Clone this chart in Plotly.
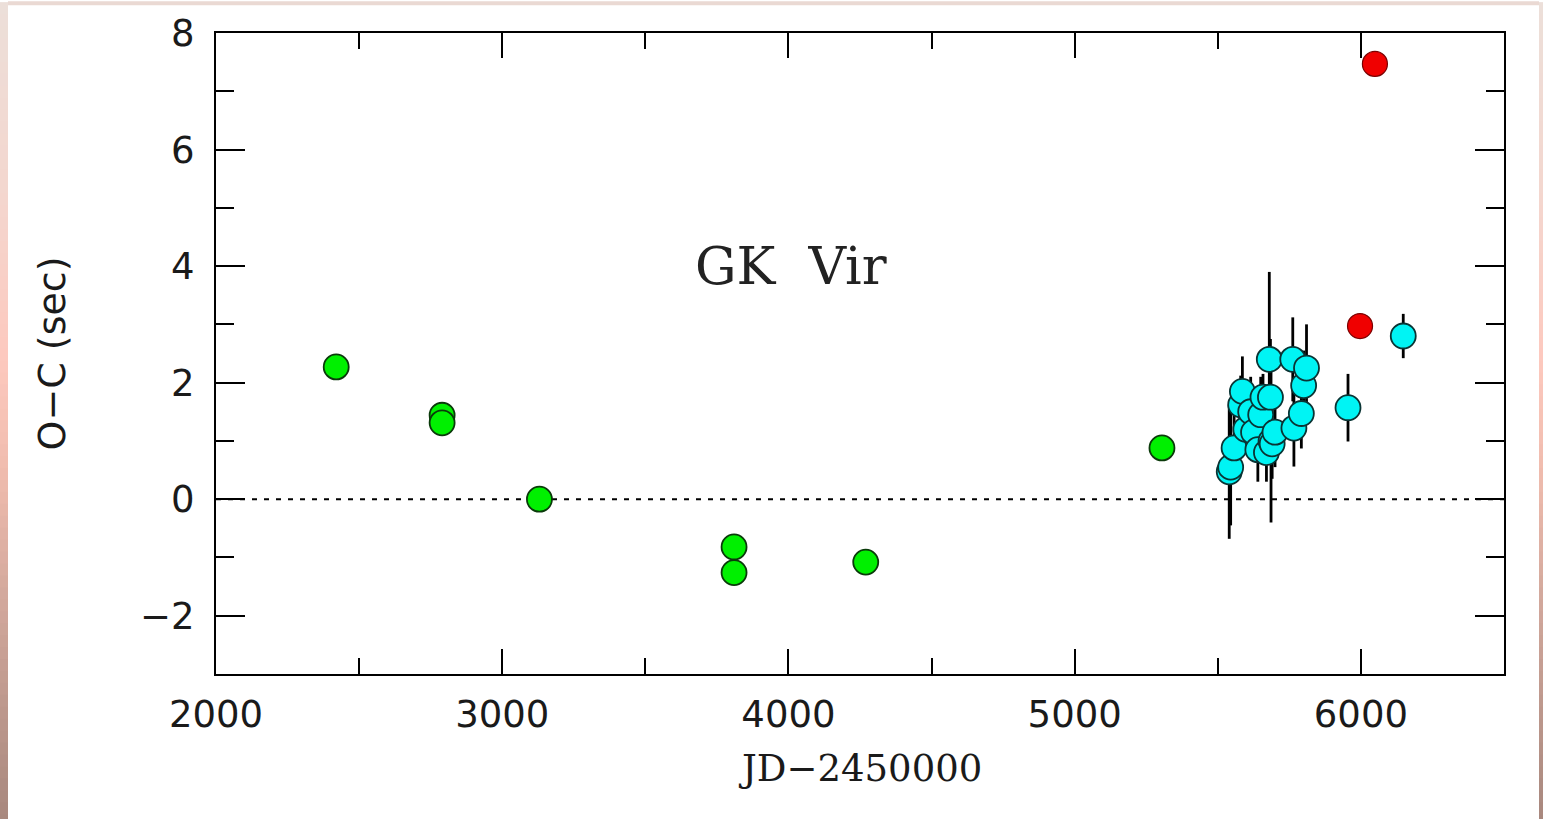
import plotly.graph_objects as go

# ---- O-C timings of GK Vir (JD-2450000, seconds) ----
green_x = [2420, 2790, 2790, 3130, 3810, 3810, 4270, 5305]
green_y = [2.27, 1.44, 1.31, 0.00, -0.82, -1.26, -1.08, 0.88]

cyan_x = [5540, 5545, 5557, 5580, 5586, 5598, 5615, 5625, 5640, 5650, 5658,
          5670, 5680, 5684, 5686, 5690, 5700, 5762, 5766, 5792, 5800, 5810,
          5955, 6148]
cyan_y = [0.47, 0.55, 0.88, 1.62, 1.85, 1.20, 1.50, 1.15, 0.85, 1.45, 1.75,
          0.80, 2.40, 1.75, 1.00, 0.95, 1.15, 2.40, 1.22, 1.47, 1.95, 2.25,
          1.57, 2.80]
cyan_err = [1.15, 1.00, 0.60, 0.50, 0.60, 0.40, 0.60, 0.50, 0.55, 0.65, 0.40,
            0.50, 1.50, 1.00, 1.40, 0.60, 0.60, 0.72, 0.66, 0.60, 0.60, 0.75,
            0.58, 0.38]

red_x = [5997, 6049]
red_y = [2.97, 7.47]

x_range = [2000, 6500]
y_range = [-3, 8]

# figure geometry (pixels)
W, H = 1543, 819
ML, MR, MT, MB = 216, 39, 30, 145
PW, PH = W - ML - MR, H - MT - MB


def px_x(p):
    return (p - ML) / PW


def px_y(q):
    return (H - MB - q) / PH


fig = go.Figure()

marker_size = 25

fig.add_trace(go.Scatter(
    x=green_x, y=green_y, mode="markers",
    marker=dict(size=marker_size, color="#00f000",
                line=dict(color="#0a3a0a", width=1.8)),
    showlegend=False,
))

fig.add_trace(go.Scatter(
    x=cyan_x, y=cyan_y, mode="markers",
    error_y=dict(type="data", array=cyan_err, visible=True,
                 color="black", thickness=2.8, width=0),
    marker=dict(size=marker_size, color="#00f4f4",
                line=dict(color="#0a3434", width=1.8)),
    showlegend=False,
))

fig.add_trace(go.Scatter(
    x=red_x, y=red_y, mode="markers",
    marker=dict(size=marker_size, color="#f00000",
                line=dict(color="#7a0000", width=1.2)),
    showlegend=False,
))

shapes = []
# dotted zero line
shapes.append(dict(type="line", xref="x", yref="y", x0=x_range[0], x1=x_range[1],
                   y0=0, y1=0, line=dict(color="black", width=2, dash="5px,7px"),
                   layer="below"))


# pinkish frame strips at the page edges
def hex2rgb(h):
    h = h.lstrip("#")
    return tuple(int(h[i:i + 2], 16) for i in (0, 2, 4))


stops = [(0, "#ecdfd9"), (200, "#f4d6ce"), (360, "#fdc9be"),
         (470, "#f0bcae"), (600, "#d2a89c"), (819, "#a8887e")]


def color_at(q):
    for (q0, c0), (q1, c1) in zip(stops[:-1], stops[1:]):
        if q0 <= q <= q1:
            t = (q - q0) / (q1 - q0)
            a, b = hex2rgb(c0), hex2rgb(c1)
            return "rgb(%d,%d,%d)" % tuple(round(a[i] + (b[i] - a[i]) * t) for i in range(3))
    return stops[-1][1]


band = 12
for q in range(0, H, band):
    col = color_at(q + band / 2)
    for xa, xb in ((-2, 8), (1539, W + 2)):
        shapes.append(dict(type="rect", xref="paper", yref="paper",
                           x0=px_x(xa), x1=px_x(xb),
                           y0=px_y(min(q + band + 2, H + 2)), y1=px_y(q - 1),
                           fillcolor=col, line=dict(width=0), layer="above"))
shapes.append(dict(type="rect", xref="paper", yref="paper",
                   x0=px_x(8), x1=px_x(1539), y0=px_y(2), y1=px_y(-2),
                   fillcolor="#ead9d3", line=dict(width=0), layer="above"))

tick_font = dict(family="DejaVu Sans", size=37, color="#1a1a1a")

fig.update_layout(
    width=W, height=H, autosize=False,
    margin=dict(l=ML, r=MR, t=MT, b=MB, pad=0),
    paper_bgcolor="white", plot_bgcolor="white",
    shapes=shapes,
    xaxis=dict(
        range=x_range, showgrid=False, zeroline=False,
        showline=True, linecolor="black", linewidth=2, mirror="allticks",
        ticks="inside", ticklen=25, tickwidth=2, tickcolor="black",
        tick0=2000, dtick=1000, tickfont=tick_font, ticklabelstandoff=7,
        minor=dict(ticks="inside", ticklen=16, tickwidth=2, tickcolor="black", dtick=500),
    ),
    yaxis=dict(
        range=y_range, showgrid=False, zeroline=False,
        showline=True, linecolor="black", linewidth=2, mirror="allticks",
        ticks="inside", ticklen=29, tickwidth=2, tickcolor="black",
        tick0=0, dtick=2, tickfont=tick_font, ticklabelstandoff=12,
        minor=dict(ticks="inside", ticklen=18, tickwidth=2, tickcolor="black", dtick=1),
    ),
    annotations=[
        dict(text="GK\u00a0\u00a0Vir", x=4010, y=4.0, xref="x", yref="y",
             showarrow=False, xanchor="center", yanchor="middle",
             font=dict(family="DejaVu Serif", size=52, color="#222222")),
        dict(text="JD\u22122450000", x=0.5, y=px_y(769), xref="paper", yref="paper",
             showarrow=False, xanchor="center", yanchor="middle",
             font=dict(family="DejaVu Serif", size=37, color="#1a1a1a")),
        dict(text="O\u2212C (sec)", x=px_x(51), y=0.5, xref="paper", yref="paper",
             showarrow=False, xanchor="center", yanchor="middle", textangle=-90,
             font=dict(family="DejaVu Sans", size=38, color="#1a1a1a")),
    ],
)

fig.write_html("out.html")
